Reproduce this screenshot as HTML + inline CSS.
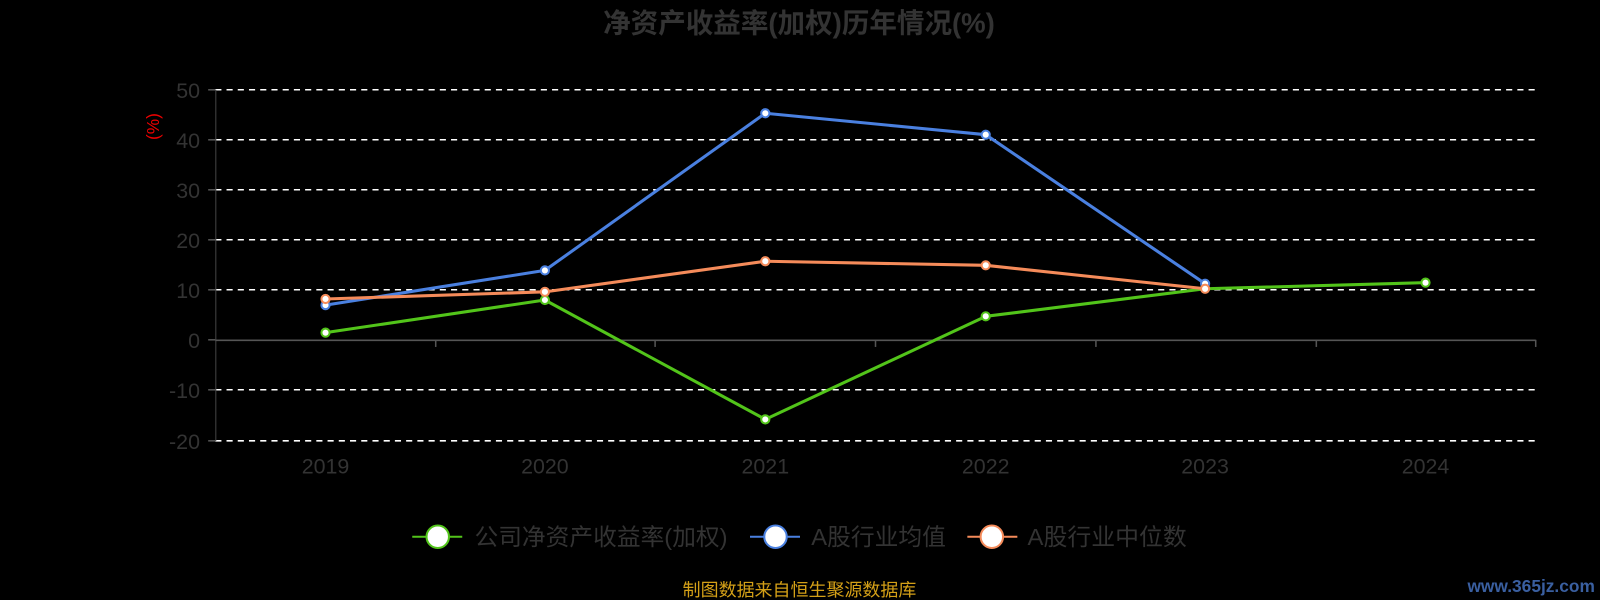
<!DOCTYPE html>
<html><head><meta charset="utf-8"><style>
html,body{margin:0;padding:0;background:#000;}
svg{display:block;font-family:"Liberation Sans","Noto Sans CJK SC",sans-serif;}
</style></head><body>
<svg width="1600" height="600" viewBox="0 0 1568 588" preserveAspectRatio="none" xmlns="http://www.w3.org/2000/svg">
<rect width="1568" height="588" fill="#000"/>
<text x="783" y="32" text-anchor="middle" font-size="27" font-weight="bold" fill="#333">净资产收益率(加权)历年情况(%)</text>
<text transform="translate(156,124) rotate(-90)" text-anchor="middle" font-size="17" fill="#e00">(%)</text>
<g stroke="#fff" stroke-width="1.5" stroke-dasharray="6,5">
<line x1="211" y1="88" x2="1505" y2="88"/>
<line x1="211" y1="137" x2="1505" y2="137"/>
<line x1="211" y1="186" x2="1505" y2="186"/>
<line x1="211" y1="235" x2="1505" y2="235"/>
<line x1="211" y1="284" x2="1505" y2="284"/>
<line x1="211" y1="382" x2="1505" y2="382"/>
<line x1="211" y1="432" x2="1505" y2="432"/>
</g>
<line x1="211.5" y1="88" x2="211.5" y2="432" stroke="#444" stroke-width="1"/>
<line x1="211" y1="333.5" x2="1505" y2="333.5" stroke="#555" stroke-width="1.5"/>
<g stroke="#555" stroke-width="1.5">
<line x1="204" y1="88" x2="211" y2="88"/><line x1="204" y1="137" x2="211" y2="137"/><line x1="204" y1="186" x2="211" y2="186"/><line x1="204" y1="235" x2="211" y2="235"/><line x1="204" y1="284" x2="211" y2="284"/><line x1="204" y1="333" x2="211" y2="333"/><line x1="204" y1="382" x2="211" y2="382"/><line x1="204" y1="432" x2="211" y2="432"/>
<line x1="427" y1="333" x2="427" y2="340"/><line x1="642" y1="333" x2="642" y2="340"/><line x1="858" y1="333" x2="858" y2="340"/><line x1="1074" y1="333" x2="1074" y2="340"/><line x1="1290" y1="333" x2="1290" y2="340"/><line x1="1505" y1="333" x2="1505" y2="340"/>
</g>
<g font-size="21" fill="#333" text-anchor="end">
<text x="196" y="96">50</text><text x="196" y="145">40</text><text x="196" y="194">30</text><text x="196" y="243">20</text><text x="196" y="292">10</text><text x="196" y="341">0</text><text x="196" y="390">-10</text><text x="196" y="440">-20</text>
</g>
<g font-size="21" fill="#333" text-anchor="middle">
<text x="319" y="464">2019</text><text x="534" y="464">2020</text><text x="750" y="464">2021</text><text x="966" y="464">2022</text><text x="1181" y="464">2023</text><text x="1397" y="464">2024</text>
</g>
<g fill="none" stroke-width="3" stroke-linejoin="round">
<polyline stroke="#52c41a" points="319,326 534,294 750,411 966,310 1181,283 1397,277"/>
<polyline stroke="#4a80e0" points="319,299 534,265 750,111 966,132 1181,278"/>
<polyline stroke="#f58b5a" points="319,293 534,286 750,256 966,260 1181,283"/>
</g>
<g fill="#fff" stroke-width="2">
<g stroke="#52c41a"><circle cx="319" cy="326" r="4"/><circle cx="534" cy="294" r="4"/><circle cx="750" cy="411" r="4"/><circle cx="966" cy="310" r="4"/><circle cx="1397" cy="277" r="4"/></g>
<g stroke="#4a80e0"><circle cx="319" cy="299" r="4"/><circle cx="534" cy="265" r="4"/><circle cx="750" cy="111" r="4"/><circle cx="966" cy="132" r="4"/><circle cx="1181" cy="278" r="4"/></g>
<g stroke="#f58b5a"><circle cx="319" cy="293" r="4"/><circle cx="534" cy="286" r="4"/><circle cx="750" cy="256" r="4"/><circle cx="966" cy="260" r="4"/><circle cx="1181" cy="283" r="4"/></g>
</g>
<g stroke-width="2">
<line x1="404" y1="526" x2="453" y2="526" stroke="#52c41a"/><circle cx="429" cy="526" r="11" fill="#fff" stroke="#52c41a"/>
<line x1="735" y1="526" x2="784" y2="526" stroke="#4a80e0"/><circle cx="760" cy="526" r="11" fill="#fff" stroke="#4a80e0"/>
<line x1="948" y1="526" x2="997" y2="526" stroke="#f58b5a"/><circle cx="972" cy="526" r="11" fill="#fff" stroke="#f58b5a"/>
</g>
<g font-size="23" fill="#333">
<text x="465" y="534" textLength="248" lengthAdjust="spacingAndGlyphs">公司净资产收益率(加权)</text>
<text x="795" y="534" textLength="132" lengthAdjust="spacingAndGlyphs">A股行业均值</text>
<text x="1007" y="534" textLength="156" lengthAdjust="spacingAndGlyphs">A股行业中位数</text>
</g>
<text x="669" y="584" font-size="17.5" fill="#d4a017" textLength="229" lengthAdjust="spacingAndGlyphs">制图数据来自恒生聚源数据库</text>
<text x="1563" y="580" text-anchor="end" font-size="17" font-weight="bold" fill="#3a5fa0">www.365jz.com</text>
</svg>
</body></html>
